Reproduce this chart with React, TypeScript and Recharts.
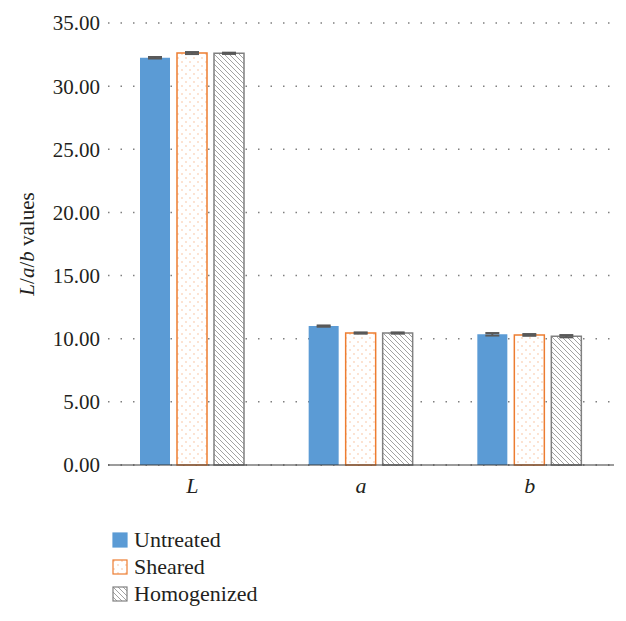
import React from "react";
import { BarChart, Bar, XAxis, YAxis, CartesianGrid, ErrorBar, Legend, Label } from "recharts";

const categories = ["L", "a", "b"];
const untreated = [32.25, 11.0, 10.35];
const sheared = [32.62, 10.45, 10.3];
const homogenized = [32.6, 10.45, 10.2];
const untreatedErr = [0.06, 0.05, 0.1];
const shearedErr = [0.08, 0.05, 0.07];
const homogenizedErr = [0.05, 0.05, 0.09];
const yTicks = [0, 5, 10, 15, 20, 25, 30, 35];
const seriesNames = ["Untreated", "Sheared", "Homogenized"];

const data = categories.map((c, i) => ({
  cat: c,
  untreated: untreated[i],
  sheared: sheared[i],
  homogenized: homogenized[i],
  untreatedErr: untreatedErr[i],
  shearedErr: shearedErr[i],
  homogenizedErr: homogenizedErr[i],
}));

const FONT = "'Liberation Serif', 'Times New Roman', serif";
const BLUE = "#5B9BD5";
const ORANGE = "#ED7D31";
const GRAY = "#808080";

const Patterns = () => (
  <defs>
    <pattern id="dotsPat" width="8" height="8" patternUnits="userSpaceOnUse">
      <rect width="8" height="8" fill="#ffffff" />
      <circle cx="2" cy="2" r="0.7" fill={ORANGE} opacity="0.6" />
      <circle cx="6" cy="6" r="0.7" fill={ORANGE} opacity="0.6" />
    </pattern>
    <pattern id="hatchPat" width="5" height="5" patternUnits="userSpaceOnUse">
      <rect width="5" height="5" fill="#ffffff" />
      <path d="M-1,-1 L6,6 M-1,4 L1,6 M4,-1 L6,1" stroke="#8a8a8a" strokeWidth="0.8" />
    </pattern>
  </defs>
);

const XTick = (props: any) => {
  const { x, y, payload } = props;
  return (
    <text x={x} y={y + 20} textAnchor="middle" fontFamily={FONT} fontSize={22} fontStyle="italic" fill="#231f20">
      {payload.value}
    </text>
  );
};

const YLabel = (props: any) => {
  const { viewBox } = props;
  const cy = viewBox.y + viewBox.height / 2;
  const cx = 19;
  return (
    <text
      x={cx}
      y={cy}
      transform={`rotate(-90, ${cx}, ${cy})`}
      textAnchor="middle"
      dominantBaseline="central"
      fontFamily={FONT}
      fontSize={21}
      fill="#231f20"
    >
      <tspan fontStyle="italic">L</tspan>
      <tspan>/</tspan>
      <tspan fontStyle="italic">a</tspan>
      <tspan>/</tspan>
      <tspan fontStyle="italic">b</tspan>
      <tspan> values</tspan>
    </text>
  );
};

const legendFills = [BLUE, "url(#dotsPat)", "url(#hatchPat)"];
const legendStrokes = [BLUE, ORANGE, GRAY];

const LegendContent = () => (
  <div style={{ height: 84, fontFamily: FONT, fontSize: 22, color: "#231f20" }}>
    {seriesNames.map((n, i) => (
      <div key={n} style={{ display: "flex", alignItems: "center", height: 27 }}>
        <svg width={16} height={16} style={{ marginRight: 6 }}>
          <rect x={1} y={1} width={14} height={14} fill={legendFills[i]} stroke={legendStrokes[i]} strokeWidth={1.2} />
        </svg>
        <span>{n}</span>
      </div>
    ))}
  </div>
);

export default function App() {
  return (
    <BarChart
      width={618}
      height={613}
      data={data}
      margin={{ top: 15, right: 12, left: 8, bottom: 7 }}
      barSize={30}
      barGap={7}
    >
      <Patterns />
      <CartesianGrid horizontal vertical={false} stroke="#7f7f7f" strokeDasharray="1.5 11" strokeWidth={1.5} />
      <XAxis
        dataKey="cat"
        height={65}
        tick={<XTick />}
        tickLine={false}
        axisLine={{ stroke: "#3a3a3a", strokeWidth: 1.2 }}
      />
      <YAxis
        width={92}
        domain={[0, 35]}
        ticks={yTicks}
        tickFormatter={(v: number) => v.toFixed(2)}
        tick={{ fontFamily: FONT, fontSize: 21, fill: "#231f20" }}
        axisLine={false}
        tickLine={false}
        interval={0}
      >
        <Label content={<YLabel />} />
      </YAxis>
      <Legend
        verticalAlign="bottom"
        align="left"
        content={<LegendContent />}
        wrapperStyle={{ left: 104, bottom: 11 }}
      />
      <Bar dataKey="untreated" name="Untreated" fill={BLUE} isAnimationActive={false}>
        <ErrorBar dataKey="untreatedErr" width={7} stroke="#595959" strokeWidth={2} />
      </Bar>
      <Bar dataKey="sheared" name="Sheared" fill="url(#dotsPat)" stroke={ORANGE} strokeWidth={1.5} isAnimationActive={false}>
        <ErrorBar dataKey="shearedErr" width={7} stroke="#595959" strokeWidth={2} />
      </Bar>
      <Bar dataKey="homogenized" name="Homogenized" fill="url(#hatchPat)" stroke={GRAY} strokeWidth={1.5} isAnimationActive={false}>
        <ErrorBar dataKey="homogenizedErr" width={7} stroke="#595959" strokeWidth={2} />
      </Bar>
    </BarChart>
  );
}
